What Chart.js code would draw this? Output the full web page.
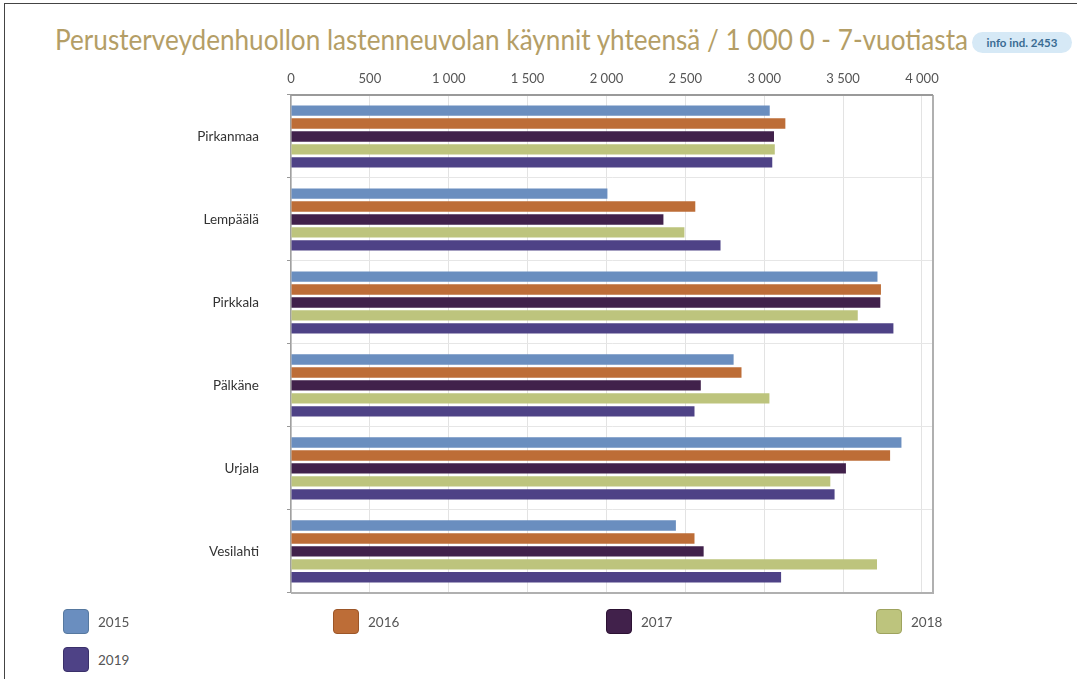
<!DOCTYPE html>
<html>
<head>
<meta charset="utf-8">
<script src="https://cdn.jsdelivr.net/npm/chart.js@4.4.1/dist/chart.umd.min.js"></script>
<style>
  html, body { margin: 0; padding: 0; background: #fff; }
  body { width: 1077px; height: 679px; position: relative; overflow: hidden; font-family: Lato, "Open Sans", sans-serif; }
  #frame { position: absolute; left: 4px; top: 3px; width: 1080px; height: 700px; border-top: 1px solid #444; border-left: 1px solid #444; }
  #title { position: absolute; left: 55px; top: 22px; font-size: 28px; color: #b49e66; white-space: nowrap; transform-origin: 0 0; font-family: Lato, sans-serif; }
  #badge { position: absolute; left: 972px; top: 32px; width: 100px; height: 21px; border-radius: 11px; background: #d6e9f6; color: #3a6c93; font-weight: bold; font-size: 11.5px; line-height: 21px; text-align: center; white-space: nowrap; }
  #chartbox { position: absolute; left: 0; top: 55px; width: 1077px; height: 574px; }
  .leg { position: absolute; display: flex; align-items: center; font-size: 13.5px; color: #555; }
  .sw { width: 26px; height: 25px; border-radius: 4px; border: 1px solid; margin-right: 9px; box-sizing: border-box; }
</style>
</head>
<body>
<div id="frame"></div>
<div id="title">Perusterveydenhuollon lastenneuvolan käynnit yhteensä / 1 000 0 - 7-vuotiasta</div>
<div id="badge">info ind. 2453</div>
<div id="chartbox"><canvas id="c" width="1077" height="574"></canvas></div>
<div id="legend"></div>
<script>
const categories = ["Pirkanmaa", "Lempäälä", "Pirkkala", "Pälkäne", "Urjala", "Vesilahti"];
const seriesNames = ["2015", "2016", "2017", "2018", "2019"];
const values2015 = [3035, 2006, 3718, 2806, 3870, 2440];
const values2016 = [3134, 2563, 3740, 2856, 3798, 2558];
const values2017 = [3062, 2361, 3736, 2598, 3518, 2616];
const values2018 = [3067, 2494, 3593, 3033, 3419, 3715];
const values2019 = [3051, 2723, 3819, 2558, 3446, 3107];
const tickValues = [0, 500, 1000, 1500, 2000, 2500, 3000, 3500, 4000];

const colors = ["#6a8ebf", "#bd6d37", "#41214b", "#bdc47d", "#4e4286"];
const borders = ["#56789f", "#9c5628", "#2c1233", "#9ea35e", "#3a306a"];
const allValues = [values2015, values2016, values2017, values2018, values2019];

// fit title width
const t = document.getElementById('title');
const w = t.getBoundingClientRect().width;
t.style.transform = 'scaleX(' + (913 / w) + ')';

const plotFrame = {
  id: 'plotFrame',
  afterDraw(chart) {
    const a = chart.chartArea, ctx = chart.ctx;
    ctx.save();
    ctx.strokeStyle = '#b0b0b0';
    ctx.lineWidth = 2;
    ctx.beginPath();
    ctx.moveTo(a.right, a.top); ctx.lineTo(a.right, a.bottom); ctx.lineTo(a.left, a.bottom);
    ctx.stroke();
    ctx.strokeStyle = '#9a9a9a';
    ctx.beginPath();
    ctx.moveTo(a.left, a.top); ctx.lineTo(a.right, a.top);
    ctx.stroke();
    ctx.restore();
  }
};

const chart = new Chart(document.getElementById('c'), {
  type: 'bar',
  data: {
    labels: categories,
    datasets: seriesNames.map((n, i) => ({
      label: n,
      data: allValues[i],
      backgroundColor: colors[i],
      borderWidth: 0,
      categoryPercentage: 0.78,
      barPercentage: 0.8
    }))
  },
  options: {
    indexAxis: 'y',
    responsive: false,
    animation: false,
    layout: { padding: { left: 0, right: 144, top: 0, bottom: 11 } },
    plugins: { legend: { display: false }, tooltip: { enabled: false } },
    scales: {
      x: {
        position: 'top',
        min: 0,
        max: 4070,
        afterFit(s) { s.height = 40; },
        afterBuildTicks(s) { s.ticks = tickValues.map(v => ({ value: v })); },
        ticks: {
          padding: 8,
          color: '#555',
          font: { family: 'Lato', size: 13 },
          callback: v => String(v).replace(/\B(?=(\d{3})+(?!\d))/g, ' ')
        },
        grid: { color: '#e3e3e3', drawTicks: false },
        border: { display: false }
      },
      y: {
        afterFit(s) { s.width = 291; },
        ticks: { padding: 28, color: '#333', font: { family: 'Lato', size: 13.5 } },
        grid: { color: '#e6e6e6', offset: true, tickLength: 4, tickColor: '#999', drawOnChartArea: true },
        border: { display: true, color: '#a0a0a0', width: 1.5 }
      }
    }
  },
  plugins: [plotFrame]
});

// HTML legend built from datasets
const legend = document.getElementById('legend');
const cols = [63, 333, 606, 876];
chart.data.datasets.forEach((ds, i) => {
  const d = document.createElement('div');
  d.className = 'leg';
  d.style.left = cols[i % 4] + 'px';
  d.style.top = (609 + Math.floor(i / 4) * 38) + 'px';
  const sw = document.createElement('div');
  sw.className = 'sw';
  sw.style.background = ds.backgroundColor;
  sw.style.borderColor = borders[i];
  d.appendChild(sw);
  const tx = document.createElement('span');
  tx.textContent = ds.label;
  d.appendChild(tx);
  legend.appendChild(d);
});
</script>
</body>
</html>
